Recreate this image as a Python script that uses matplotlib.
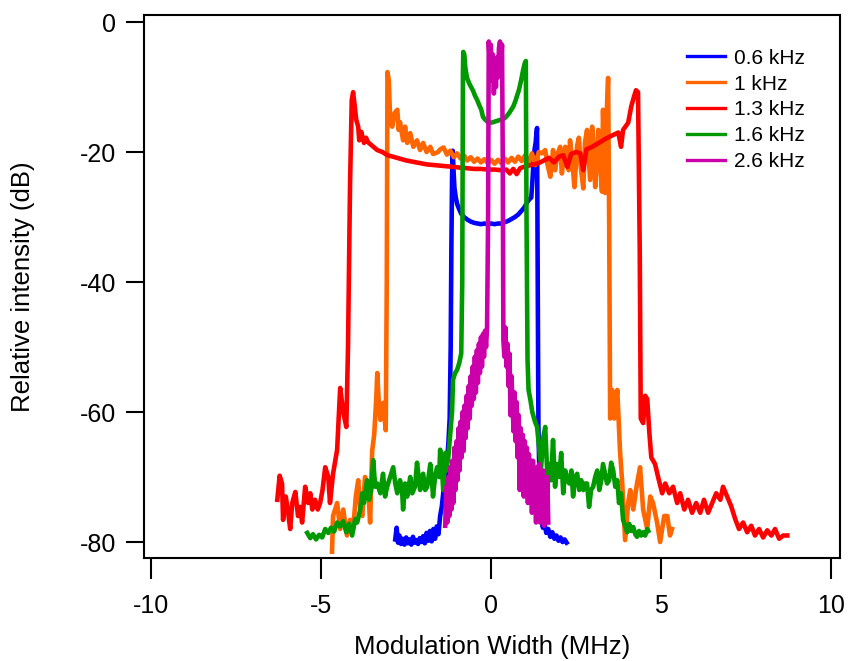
import matplotlib
matplotlib.use("Agg")
import matplotlib.pyplot as plt

plt.rcParams['font.family'] = ['Liberation Sans', 'DejaVu Sans']
plt.rcParams['axes.unicode_minus'] = False

# ---- spectra: modulation width (MHz) vs relative intensity (dB) ----
x_06 = [-2.82, -2.78, -2.74, -2.70, -2.65, -2.60, -2.55, -2.50, -2.45, -2.40, -2.35, -2.30,
        -2.25, -2.20, -2.15, -2.10, -2.05, -2.00, -1.95, -1.90, -1.85, -1.80, -1.75, -1.70,
        -1.65, -1.60, -1.55, -1.50, -1.45, -1.40, -1.35, -1.30, -1.26, -1.22, -1.19, -1.17,
        -1.15, -1.13, -1.11, -1.08, -1.04, -1.00, -0.94, -0.88, -0.80, -0.70, -0.60, -0.50,
        -0.40, -0.30, -0.20, -0.10, 0.00, 0.10, 0.20, 0.30, 0.40, 0.50, 0.60, 0.70, 0.80,
        0.90, 0.98, 1.05, 1.12, 1.18, 1.22, 1.25, 1.28, 1.31, 1.33, 1.35, 1.37, 1.39, 1.41,
        1.44, 1.47, 1.52, 1.57, 1.62, 1.68, 1.74, 1.80, 1.86, 1.92, 1.98, 2.04, 2.10, 2.16, 2.22]
y_06 = [-79.6, -77.8, -80.1, -79.0, -80.3, -79.5, -80.4, -79.3, -80.2, -79.6, -80.4, -79.2,
        -80.1, -79.7, -80.3, -79.4, -80.0, -79.1, -80.2, -78.6, -79.8, -78.3, -79.9, -78.0,
        -79.5, -77.6, -78.8, -76.0, -74.5, -72.0, -71.0, -67.5, -65.0, -61.0, -50.0, -35.0,
        -24.0, -19.8, -22.5, -25.5, -27.0, -28.0, -28.8, -29.5, -30.0, -30.4, -30.7, -30.9,
        -31.0, -31.1, -31.0, -31.1, -31.0, -31.1, -31.0, -31.0, -30.8, -30.6, -30.3, -30.0, -29.6,
        -29.0, -28.5, -27.8, -27.3, -27.0, -24.0, -21.0, -19.5, -18.5, -17.2, -16.3, -40.0, -62.0, -67.5,
        -73.0, -76.0, -77.8, -77.0, -78.6, -78.0, -79.2, -78.5, -79.5, -79.0, -79.8, -79.3, -80.0, -79.6, -80.1]

x_1 = [-4.68, -4.65, -4.53, -4.44, -4.35, -4.24, -4.15, -4.06, -3.98, -3.91, -3.85, -3.79,
       -3.71, -3.62, -3.56, -3.50, -3.44, -3.38, -3.35, -3.30, -3.26, -3.18, -3.10, -3.07,
       -3.05, -3.01, -2.97, -2.91, -2.84, -2.76, -2.72, -2.68, -2.59, -2.53, -2.47, -2.38,
       -2.29, -2.18, -2.09, -2.00, -1.90, -1.79, -1.71, -1.56, -1.50, -1.40, -1.30, -1.20,
       -1.10, -1.00, -0.90, -0.80, -0.70, -0.60, -0.50, -0.40, -0.30, -0.20, -0.10, 0.00,
       0.10, 0.20, 0.30, 0.40, 0.50, 0.60, 0.70, 0.80, 0.90, 1.00, 1.10, 1.20, 1.30, 1.40,
       1.50, 1.59, 1.66, 1.74, 1.82, 1.88, 1.94, 2.03, 2.08, 2.12, 2.18, 2.24, 2.28, 2.32,
       2.38, 2.45, 2.53, 2.58, 2.64, 2.71, 2.76, 2.82, 2.87, 2.91, 2.97, 3.02, 3.06, 3.12,
       3.15, 3.20, 3.26, 3.29, 3.35, 3.38, 3.41, 3.44, 3.47, 3.50, 3.56, 3.62, 3.71, 3.79,
       3.85, 3.94, 4.03, 4.09, 4.18, 4.29, 4.38, 4.47, 4.59, 4.68, 4.76, 4.88, 4.97, 5.09,
       5.18, 5.26, 5.32]
y_1 = [-81.5, -76.0, -74.0, -78.0, -75.0, -79.0, -76.6, -78.0, -73.0, -70.5, -75.0, -76.0,
       -70.0, -71.5, -77.0, -66.0, -63.5, -58.0, -54.0, -59.0, -61.2, -58.6, -62.8, -40.0,
       -7.7, -9.0, -15.0, -16.1, -14.0, -13.5, -16.6, -15.4, -18.2, -16.1, -18.6, -17.1,
       -19.2, -18.2, -19.7, -18.6, -20.0, -19.2, -20.3, -20.0, -19.6, -19.3, -20.4, -19.8,
       -20.8, -20.2, -21.0, -20.5, -21.3, -20.8, -21.5, -21.0, -21.6, -21.1, -21.7, -21.2,
       -21.8, -21.2, -21.7, -21.0, -21.6, -20.9, -21.5, -20.7, -21.4, -20.5, -21.6, -20.2, -22.0, -20.0,
       -20.2, -19.7, -22.0, -23.8, -19.7, -22.8, -20.5, -19.2, -23.3, -21.5, -19.2, -22.0, -22.8, -18.2,
       -21.0, -25.4, -19.0, -17.8, -22.5, -25.6, -18.5, -16.6, -21.0, -24.3, -16.1, -20.5, -25.4, -19.0,
       -16.6, -22.0, -26.1, -13.5, -26.3, -17.0, -12.5, -8.6, -30.0, -61.0, -56.6, -61.0, -56.6, -66.0,
       -70.5, -79.7, -74.0, -72.0, -75.0, -71.0, -68.5, -75.0, -78.0, -73.0, -74.0, -77.0, -80.0, -76.0,
       -76.0, -79.0, -78.0]

x_13 = [-6.29, -6.22, -6.15, -6.12, -6.04, -5.97, -5.91, -5.85, -5.76, -5.68, -5.62, -5.56,
        -5.47, -5.38, -5.32, -5.26, -5.18, -5.10, -5.03, -4.96, -4.88, -4.79, -4.74, -4.65,
        -4.53, -4.44, -4.35, -4.26, -4.21, -4.15, -4.10, -4.06, -4.00, -3.97, -3.91, -3.88,
        -3.82, -3.74, -3.68, -3.62, -3.53, -3.44, -3.35, -3.20, -3.05, -2.90, -2.70, -2.50,
        -2.30, -2.10, -1.90, -1.70, -1.50, -1.30, -1.10, -0.90, -0.70, -0.50, -0.30, -0.10,
        0.10, 0.30, 0.45, 0.55, 0.65, 0.75, 0.85, 0.95, 1.10, 1.25, 1.40, 1.55, 1.70, 1.85,
        2.00, 2.12, 2.24, 2.35, 2.50, 2.62, 2.71, 2.80, 2.97, 3.10, 3.23, 3.35, 3.50, 3.62,
        3.74, 3.82, 3.88, 4.03, 4.12, 4.20, 4.26, 4.32, 4.37, 4.40, 4.47, 4.53, 4.59, 4.65,
        4.71, 4.82, 4.91, 5.03, 5.12, 5.24, 5.35, 5.47, 5.56, 5.68, 5.79, 5.91, 6.03, 6.15,
        6.26, 6.38, 6.50, 6.62, 6.74, 6.82, 6.94, 7.06, 7.18, 7.29, 7.41, 7.53, 7.65, 7.76,
        7.88, 8.00, 8.12, 8.24, 8.35, 8.47, 8.59, 8.71]
y_13 = [-73.5, -69.8, -71.0, -76.6, -73.0, -75.5, -78.0, -74.0, -72.3, -76.0, -74.6, -77.0,
        -71.5, -74.0, -72.5, -75.0, -73.5, -75.0, -74.0, -72.0, -68.5, -70.0, -74.0, -69.5,
        -65.8, -56.3, -60.0, -62.3, -50.0, -25.0, -12.0, -10.8, -13.5, -15.0, -16.1, -18.2,
        -16.9, -18.6, -17.8, -18.5, -18.9, -19.3, -19.7, -20.0, -20.5, -20.7, -21.0, -21.3,
        -21.5, -21.7, -21.9, -22.0, -22.1, -22.2, -22.3, -22.4, -22.5, -22.6, -22.6, -22.7,
        -22.7, -22.8, -22.7, -23.3, -22.6, -23.4, -22.5, -22.3, -22.1, -21.9, -21.7, -21.3, -20.9, -21.6,
        -20.7, -20.5, -22.3, -20.3, -20.0, -20.2, -22.8, -19.6, -19.2, -18.8, -18.4, -18.0, -17.6, -17.3,
        -17.0, -19.2, -16.6, -15.5, -13.0, -11.5, -10.5, -10.8, -35.0, -61.0, -61.7, -57.5, -58.0, -63.0,
        -67.0, -68.0, -70.0, -72.5, -71.0, -72.5, -71.5, -74.0, -72.5, -75.0, -73.5, -75.5, -74.0, -75.5,
        -73.5, -75.5, -74.0, -72.5, -73.5, -71.5, -73.0, -74.5, -76.5, -78.0, -77.0, -78.5, -77.5, -79.0,
        -78.0, -79.3, -78.2, -79.0, -78.0, -79.5, -79.0, -79.0]

x_16 = [-5.41, -5.32, -5.24, -5.15, -5.06, -4.97, -4.88, -4.79, -4.71, -4.62, -4.53, -4.44,
        -4.35, -4.26, -4.18, -4.09, -4.00, -3.94, -3.85, -3.79, -3.74, -3.65, -3.59, -3.53,
        -3.47, -3.41, -3.35, -3.26, -3.18, -3.12, -3.06, -2.97, -2.88, -2.82, -2.76, -2.68,
        -2.62, -2.59, -2.53, -2.47, -2.38, -2.32, -2.24, -2.18, -2.12, -2.09, -2.00, -1.94,
        -1.88, -1.79, -1.74, -1.71, -1.65, -1.59, -1.53, -1.50, -1.44, -1.41, -1.35, -1.32,
        -1.26, -1.21, -1.15, -1.12, -1.06, -1.00, -0.94, -0.88, -0.85, -0.83, -0.82, -0.79,
        -0.76, -0.71, -0.65, -0.59, -0.53, -0.47, -0.41, -0.35, -0.29, -0.24, -0.18, -0.12,
        -0.06, 0.00, 0.06, 0.12, 0.18, 0.24, 0.30, 0.36, 0.42, 0.47, 0.53, 0.59, 0.65, 0.71,
        0.76, 0.82, 0.88, 0.94, 0.99, 1.02, 1.04, 1.07, 1.10, 1.15, 1.21, 1.29, 1.35, 1.41,
        1.47, 1.53, 1.59, 1.65, 1.71, 1.76, 1.82, 1.88, 1.94, 2.00, 2.06, 2.12, 2.18, 2.24,
        2.30, 2.36, 2.41, 2.47, 2.53, 2.59, 2.65, 2.71, 2.76, 2.82, 2.88, 2.94, 3.00, 3.06,
        3.12, 3.18, 3.24, 3.29, 3.35, 3.41, 3.47, 3.53, 3.59, 3.65, 3.71, 3.76, 3.82, 3.88,
        3.94, 4.00, 4.06, 4.12, 4.18, 4.24, 4.29, 4.35, 4.41, 4.47, 4.53, 4.59, 4.62]
y_16 = [-78.6, -79.4, -78.8, -79.6, -78.9, -79.3, -78.0, -78.6, -77.8, -78.4, -77.0, -77.6,
        -76.8, -78.5, -77.2, -79.0, -76.5, -77.0, -75.0, -72.5, -74.0, -70.5, -73.5, -72.0,
        -67.4, -71.5, -71.0, -72.5, -69.5, -73.0, -71.5, -70.0, -68.5, -71.0, -72.5, -70.5,
        -72.0, -75.0, -71.0, -73.0, -70.0, -72.5, -71.5, -67.8, -70.5, -72.0, -69.5, -72.0,
        -71.5, -68.0, -70.5, -73.0, -70.0, -68.5, -70.0, -65.8, -69.4, -72.0, -66.3, -69.0,
        -67.0, -63.8, -60.0, -55.0, -54.0, -53.5, -52.5, -51.0, -40.0, -8.0, -4.6, -5.0,
        -7.0, -8.6, -9.4, -10.0, -10.6, -11.4, -12.0, -12.8, -13.5, -14.6, -15.0, -15.3,
        -15.4, -15.5, -15.4, -15.3, -15.2, -15.1, -15.0, -14.9, -14.7, -14.4, -14.0, -13.5, -13.0, -12.2,
        -11.4, -10.4, -9.0, -7.4, -6.3, -6.0, -30.0, -52.0, -56.6, -58.0, -60.0, -61.5, -62.3, -65.4,
        -68.5, -64.0, -62.3, -69.4, -68.0, -70.5, -64.3, -71.5, -68.0, -70.0, -66.3, -72.5, -69.0, -70.5,
        -71.0, -69.0, -73.0, -70.0, -69.5, -72.0, -70.5, -72.0, -71.0, -71.0, -74.6, -72.0, -71.5, -70.0,
        -69.0, -72.0, -70.5, -68.0, -69.5, -71.0, -70.5, -67.8, -69.0, -71.5, -70.5, -74.0, -72.5, -76.6,
        -77.5, -78.5, -77.2, -78.3, -77.7, -78.8, -79.2, -78.3, -79.0, -78.5, -79.0, -78.0, -78.3]

x_26 = [-1.35, -1.32, -1.29, -1.26, -1.23, -1.20, -1.17, -1.14, -1.11, -1.08, -1.05, -1.02,
        -0.99, -0.96, -0.93, -0.90, -0.87, -0.84, -0.81, -0.78, -0.75, -0.72, -0.69, -0.66,
        -0.63, -0.60, -0.57, -0.54, -0.51, -0.48, -0.45, -0.42, -0.39, -0.36, -0.33, -0.30,
        -0.27, -0.24, -0.21, -0.18, -0.15, -0.12, -0.09, -0.07, -0.04, -0.01, 0.02, 0.05,
        0.08, 0.11, 0.14, 0.17, 0.20, 0.23, 0.26, 0.29, 0.32, 0.34, 0.36, 0.39, 0.42, 0.45,
        0.48, 0.51, 0.54, 0.57, 0.60, 0.63, 0.66, 0.69, 0.72, 0.75, 0.78, 0.81, 0.84, 0.87,
        0.90, 0.93, 0.96, 0.99, 1.02, 1.05, 1.08, 1.11, 1.14, 1.17, 1.20, 1.23, 1.26, 1.29,
        1.32, 1.35, 1.38, 1.41, 1.44, 1.47, 1.50, 1.53, 1.56, 1.59, 1.62, 1.65, 1.68]
y_26 = [-77.5, -71.5, -77.0, -70.0, -76.0, -68.5, -75.0, -67.5, -74.0, -65.5, -72.0, -64.5,
        -70.5, -62.5, -69.0, -61.5, -67.0, -60.0, -66.0, -59.0, -64.0, -57.5, -62.5, -56.0,
        -61.0, -54.5, -59.0, -53.0, -58.0, -51.5, -57.0, -50.5, -55.5, -49.5, -54.0, -48.5,
        -53.0, -48.0, -51.5, -47.5, -50.0, -47.0, -30.0, -3.0, -6.5, -3.5, -9.0, -5.0,
        -11.0, -6.0, -10.0, -5.5, -8.5, -4.0, -3.0, -6.0, -3.5, -20.0, -49.0, -51.5, -47.0, -53.0,
        -49.5, -56.0, -51.0, -60.5, -54.5, -59.0, -63.0, -57.0, -64.5, -58.5, -67.0, -60.5, -72.0, -62.5,
        -69.0, -63.5, -73.0, -64.5, -71.0, -65.5, -74.0, -66.5, -72.5, -67.5, -75.5, -67.5, -73.0, -69.0,
        -77.0, -68.5, -75.0, -68.0, -77.0, -69.5, -76.0, -69.0, -77.5, -70.5, -76.5, -70.0, -77.0]

labels = ['0.6 kHz', '1 kHz', '1.3 kHz', '1.6 kHz', '2.6 kHz']
colors = ['#0000FF', '#FF6600', '#FF0000', '#009900', '#CC00AA']
xs = [x_06, x_1, x_13, x_16, x_26]
ys = [y_06, y_1, y_13, y_16, y_26]

fig = plt.figure(figsize=(8.49, 6.61), dpi=100)
ax = fig.add_axes([144 / 849, 1 - 558 / 661, 696 / 849, 543 / 661])

for x, y, c, lab in zip(xs, ys, colors, labels):
    ax.plot(x, y, color=c, lw=3.3, label=lab)

ax.set_xlim(-10.21, 10.26)
ax.set_ylim(-82.46, 1.08)
ax.set_xticks([-10, -5, 0, 5, 10])
ax.set_yticks([0, -20, -40, -60, -80])

for sp in ax.spines.values():
    sp.set_linewidth(1.5)
ax.tick_params(axis='both', direction='out', width=1.5, labelsize=18, colors='black')
ax.tick_params(axis='y', length=13, pad=7)
ax.tick_params(axis='x', length=15, pad=11)

ax.set_xlabel('Modulation Width (MHz)', fontsize=18.5, labelpad=12)
ax.set_ylabel('Relative intensity (dB)', fontsize=18.5, labelpad=32)

leg = ax.legend(loc='upper left', bbox_to_anchor=(0.780, 0.938), frameon=False,
                fontsize=15, handlelength=1.83, handletextpad=0.45, labelspacing=0.33,
                borderpad=0, borderaxespad=0)
for ln in leg.get_lines():
    ln.set_linewidth(2.4)

fig.savefig('out.png', dpi=100)
